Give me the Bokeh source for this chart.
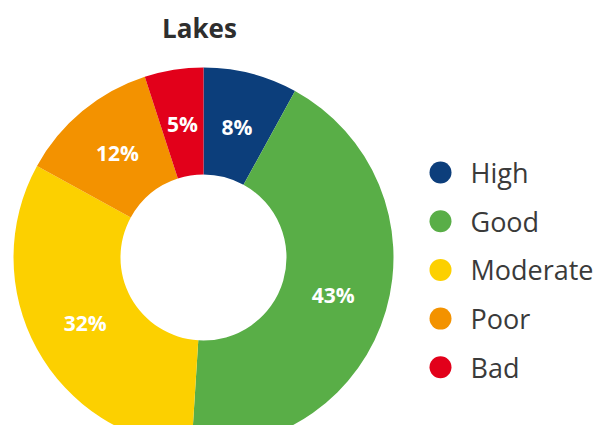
import numpy as np
from bokeh.plotting import figure
from bokeh.models import Range1d, ColumnDataSource
from bokeh.core.properties import value
from bokeh.embed import file_html
from bokeh.resources import INLINE

title = "Lakes"
categories = ["High", "Good", "Moderate", "Poor", "Bad"]
shares = [8, 43, 32, 12, 5]
colors = ["#0c3e7b", "#59ae47", "#fcd000", "#f39200", "#e2001a"]

W, H = 600, 425
# data units = screen pixels of the photographed page (y measured upward from 441)
p = figure(width=W, height=H, output_backend="svg", toolbar_location=None,
           x_range=Range1d(0, W), y_range=Range1d(441 - H, 441),
           min_border=0)
p.axis.visible = False
p.xgrid.visible = False
p.ygrid.visible = False
p.outline_line_color = None
p.background_fill_color = "white"

cx, cy = 203, 441 - 257
r_in, r_out = 83, 190

vals = np.array(shares, dtype=float)
frac = vals / vals.sum()
cum = np.concatenate([[0], np.cumsum(frac)])
start = np.pi / 2 - 2 * np.pi * cum[1:]
end = np.pi / 2 - 2 * np.pi * cum[:-1]
mid = (start + end) / 2
rm = 135

src = ColumnDataSource(dict(start=start, end=end, color=colors,
                            lx=cx + rm * np.cos(mid), ly=cy + rm * np.sin(mid),
                            lab=[f"{v}%" for v in shares]))
p.annular_wedge(x=cx, y=cy, inner_radius=r_in, outer_radius=r_out,
                start_angle="start", end_angle="end", fill_color="color",
                line_color=None, source=src)
p.text(x="lx", y="ly", text="lab", source=src, text_color="white",
       text_font=value("Open Sans"), text_font_style="bold",
       text_font_size="21px", text_align="center", text_baseline="middle")

p.text(x=[199], y=[441 - 27], text=[title], text_color="#2e2e2e",
       text_font=value("Open Sans"), text_font_style="bold",
       text_font_size="26px", text_align="center", text_baseline="middle")

n = len(categories)
leg_y = [441 - (172 + i * 48.7) for i in range(n)]
lsrc = ColumnDataSource(dict(x=[440] * n, tx=[470] * n, y=leg_y,
                             color=colors, lab=categories))
p.scatter(x="x", y="y", size=22, fill_color="color", line_color=None, source=lsrc)
p.text(x="tx", y="y", text="lab", source=lsrc, text_color="#3a3a3a",
       text_font=value("Open Sans"), text_font_size="27px",
       text_align="left", text_baseline="middle")

open("out.html", "w").write(file_html(p, INLINE))
